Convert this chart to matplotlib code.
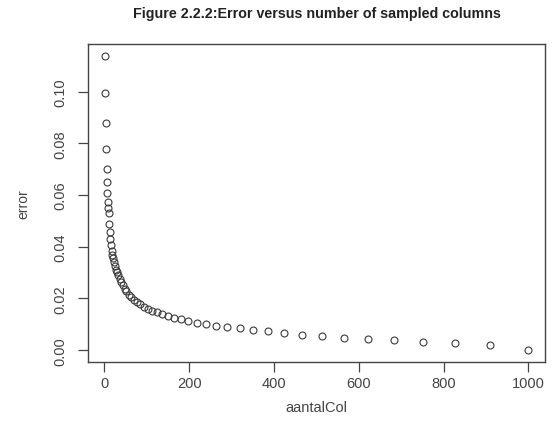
import matplotlib
matplotlib.use("Agg")
import matplotlib.pyplot as plt
from matplotlib.ticker import FormatStrFormatter

# number of sampled columns and the resulting approximation error
aantal_col = [1, 2, 3, 4, 5, 6, 7, 8, 9, 10, 11, 12, 14, 15, 17, 18, 20, 22, 24,
              27, 29, 32, 36, 39, 43, 48, 52, 58, 63, 70, 77, 84, 93, 102, 112,
              123, 135, 149, 164, 180, 198, 218, 240, 264, 290, 319, 351, 386,
              424, 467, 513, 565, 621, 683, 752, 827, 910, 1000]
error = [0.114, 0.0995, 0.088, 0.078, 0.070, 0.065, 0.061, 0.0575, 0.055, 0.053,
         0.0488, 0.0458, 0.0432, 0.0408, 0.0385, 0.0370, 0.0355, 0.0340, 0.0327,
         0.0312, 0.0302, 0.0290, 0.0275, 0.0263, 0.0252, 0.0238, 0.0228, 0.0215,
         0.0206, 0.0196, 0.0186, 0.0178, 0.0169, 0.0161, 0.0153, 0.0146, 0.0139,
         0.0132, 0.0126, 0.0119, 0.0113, 0.0107, 0.0101, 0.0095, 0.0089, 0.0084,
         0.0079, 0.0073, 0.0066, 0.0060, 0.0055, 0.0049, 0.0043, 0.0038, 0.0033,
         0.0027, 0.0019, 0.0000]

x_ticks = [0, 200, 400, 600, 800, 1000]
y_ticks = [0.00, 0.02, 0.04, 0.06, 0.08, 0.10]

plt.rcParams['font.family'] = ['Liberation Sans', 'DejaVu Sans']

fig = plt.figure(figsize=(5.53, 4.27), dpi=100)
ax = fig.add_axes([0.159, 0.150, 0.827, 0.745])

ax.plot(aantal_col, error, linestyle='none', marker='o', markersize=5,
        markerfacecolor='none', markeredgecolor='#3a3a3a', markeredgewidth=0.8)

# R-style 4% padding around the data range
xr = max(aantal_col) - min(aantal_col)
yr = max(error) - min(error)
ax.set_xlim(min(aantal_col) - 0.04 * xr, max(aantal_col) + 0.04 * xr)
ax.set_ylim(min(error) - 0.04 * yr, max(error) + 0.04 * yr)

ax.set_xticks(x_ticks)
ax.set_yticks(y_ticks)
ax.yaxis.set_major_formatter(FormatStrFormatter('%.2f'))

for s in ax.spines.values():
    s.set_color('#444444')
    s.set_linewidth(1.0)

ax.tick_params(axis='both', direction='out', length=7, width=0.9,
               color='#444444', labelcolor='#444444', labelsize=10.5)
ax.tick_params(axis='x', pad=3)
ax.tick_params(axis='y', pad=8, labelrotation=90)
for lbl in ax.get_yticklabels():
    lbl.set_va('center')

ax.set_xlabel('aantalCol', fontsize=10.5, color='#444444', labelpad=7)
ax.set_ylabel('error', fontsize=10, color='#444444', labelpad=16)
ax.set_title('Figure 2.2.2:Error versus number of sampled columns',
             fontsize=10.3, fontweight='bold', color='#222222', pad=19)

fig.savefig('out.png', dpi=100)
